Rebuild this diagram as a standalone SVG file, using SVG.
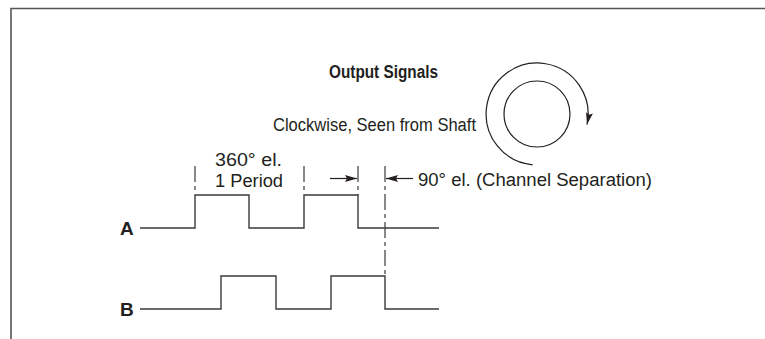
<svg xmlns="http://www.w3.org/2000/svg" width="765" height="339" viewBox="0 0 765 339">
<style>
.frame{fill:none;stroke:#555;stroke-width:1.6}
.sig{fill:none;stroke:#3a3a3a;stroke-width:1.4;stroke-linejoin:miter}
.dash{fill:none;stroke:#3a3a3a;stroke-width:1.2;stroke-dasharray:16,4,4,4}
.ln{fill:none;stroke:#231f20;stroke-width:1.2}
.t{font-family:"Liberation Sans",Arial,sans-serif;font-size:18px;fill:#231f20}
.b{font-family:"Liberation Sans",Arial,sans-serif;font-weight:bold;fill:#231f20}
</style>
<defs>
<marker id="ah" viewBox="0 0 12 7" refX="12" refY="3.5" markerWidth="12" markerHeight="7" markerUnits="userSpaceOnUse" orient="auto">
<path d="M0,0 L12,3.5 L0,7 L2,3.5 Z" fill="#231f20"/>
</marker>
</defs>
<g id="frame"><path class="frame" d="M11,339 V8.5 H765"/></g>
<g id="title"><text class="b" x="329" y="78" font-size="17.5" textLength="109" lengthAdjust="spacingAndGlyphs">Output Signals</text></g>
<g id="rotation">
<text class="t" x="273" y="131" textLength="203" lengthAdjust="spacingAndGlyphs">Clockwise, Seen from Shaft</text>
<circle class="ln" cx="537" cy="114" r="33"/>
<path class="ln" d="M532.6,164.8 A51,51 0 1 1 587,124.6" marker-end="url(#ah)"/>
</g>
<g id="signalA">
<text class="b" x="120" y="235" font-size="19">A</text>
<path class="sig" d="M140,228 H195 V195 H249 V228 H304 V195 H358 V228 H439"/>
</g>
<g id="signalB">
<text class="b" x="120" y="316" font-size="19">B</text>
<path class="sig" d="M140,309 H221 V276 H276 V309 H331 V276 H385 V309 H439"/>
</g>
<g id="labels">
<text class="t" x="215" y="166" textLength="67" lengthAdjust="spacingAndGlyphs">360° el.</text>
<text class="t" x="215" y="187" textLength="68" lengthAdjust="spacingAndGlyphs">1 Period</text>
<text class="t" x="418" y="186" textLength="234" lengthAdjust="spacingAndGlyphs">90° el. (Channel Separation)</text>
</g>
<g id="connectors">
<line class="dash" x1="195" y1="166" x2="195" y2="194"/>
<line class="dash" x1="304" y1="166" x2="304" y2="194"/>
<line class="dash" x1="358" y1="166" x2="358" y2="195"/>
<line class="dash" x1="385" y1="166" x2="385" y2="276"/>
<line class="ln" x1="330" y1="178.5" x2="357" y2="178.5" marker-end="url(#ah)"/>
<line class="ln" x1="413" y1="178.5" x2="386" y2="178.5" marker-end="url(#ah)"/>
</g>
</svg>
